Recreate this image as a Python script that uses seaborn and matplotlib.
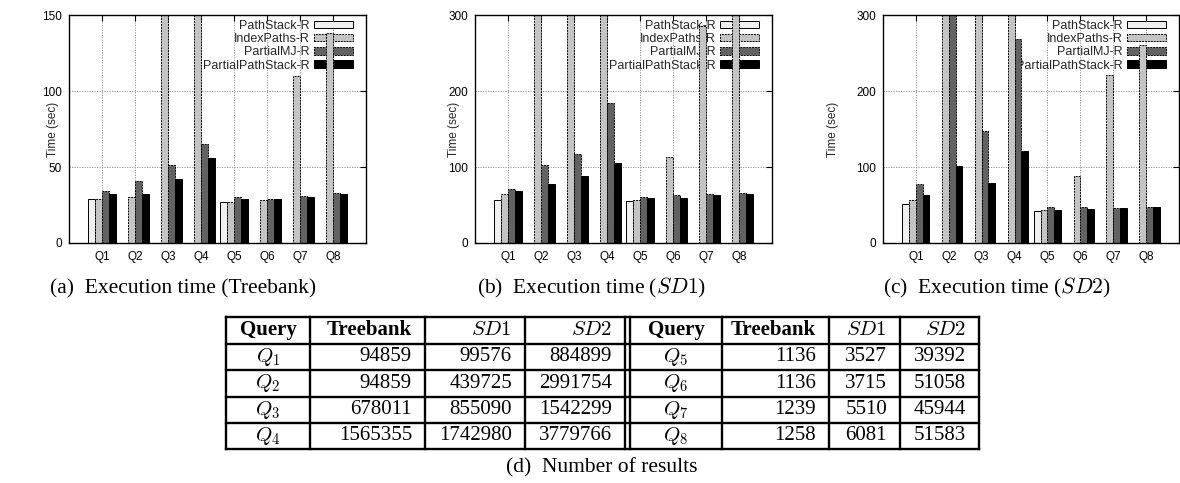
import pandas as pd
import seaborn as sns
import matplotlib.pyplot as plt

# === DANE ===
QUERIES = ["Q1", "Q2", "Q3", "Q4", "Q5", "Q6", "Q7", "Q8"]
ALGOS = ["PathStack-R", "IndexPaths-R", "PartialMJ-R", "PartialPathStack-R"]
NA = float("nan")

# Treebank (sec); wartosci ponad skale sa ucinane przez os
tb_pathstack = [29, NA, NA, NA, 27, NA, NA, NA]
tb_indexpaths = [29, 30, 200, 200, 27, 28, 110, 138]
tb_partialmj = [34, 41, 51, 65, 30, 29, 31, 33]
tb_partialps = [32, 32, 42, 56, 29, 29, 30, 32]

# SD1 (sec)
sd1_pathstack = [57, NA, NA, NA, 55, NA, NA, NA]
sd1_indexpaths = [64, 400, 400, 400, 56, 113, 285, 400]
sd1_partialmj = [71, 103, 117, 184, 61, 63, 64, 66]
sd1_partialps = [69, 77, 88, 105, 59, 59, 63, 65]

# SD2 (sec)
sd2_pathstack = [51, NA, NA, NA, 42, NA, NA, NA]
sd2_indexpaths = [57, 400, 400, 400, 44, 88, 221, 260]
sd2_partialmj = [77, 400, 148, 269, 47, 47, 46, 47]
sd2_partialps = [63, 101, 79, 121, 44, 45, 46, 47]

# Tabela: liczba wynikow
tbl_queries = ["$Q_1$", "$Q_2$", "$Q_3$", "$Q_4$", "$Q_5$", "$Q_6$", "$Q_7$", "$Q_8$"]
tbl_treebank = [94859, 94859, 678011, 1565355, 1136, 1136, 1239, 1258]
tbl_sd1 = [99576, 439725, 855090, 1742980, 3527, 3715, 5510, 6081]
tbl_sd2 = [884899, 2991754, 1542299, 3779766, 39392, 51058, 45944, 51583]
tbl_header = ["Query", "Treebank", "$SD1$", "$SD2$"]

# === STYL ===
COLORS = ["#f0f0f0", "#c4c4c4", "#626262", "#000000"]
LINESTYLES = ["-", (0, (2, 1)), (0, (2, 1)), "-"]
SANS = ["Liberation Sans", "DejaVu Sans"]
SERIF = ["Liberation Serif", "DejaVu Serif"]

sns.set_theme(style="white")
plt.rcParams["font.family"] = SANS
plt.rcParams["mathtext.fontset"] = "cm"

W, H = 1180, 483
fig = plt.figure(figsize=(W / 100, H / 100), dpi=100)


def make_df(series):
    rows = []
    for algo, vals in zip(ALGOS, series):
        for q, v in zip(QUERIES, vals):
            rows.append({"Query": q, "Algo": algo, "Time": v})
    return pd.DataFrame(rows)


def px_axes(x0, x1, y0, y1):
    return fig.add_axes([x0 / W, 1 - y1 / H, (x1 - x0) / W, (y1 - y0) / H])


# === WYKRESY ===
panels = [
    ((69, 366, 15, 243), [tb_pathstack, tb_indexpaths, tb_partialmj, tb_partialps], 150, 50, -0.035),
    ((475, 772, 15, 243), [sd1_pathstack, sd1_indexpaths, sd1_partialmj, sd1_partialps], 300, 100, -0.05),
    ((883, 1179, 15, 243), [sd2_pathstack, sd2_indexpaths, sd2_partialmj, sd2_partialps], 300, 100, -0.15),
]

for box, series, ymax, ystep, ylab_x in panels:
    ax = px_axes(*box)
    df = make_df(series)
    sns.barplot(data=df, x="Query", y="Time", hue="Algo", hue_order=ALGOS,
                palette=COLORS, saturation=1, width=0.82, errorbar=None,
                edgecolor="black", linewidth=0.7, legend=False, ax=ax)
    for cont, ls in zip(ax.containers, LINESTYLES):
        for bar in cont:
            bar.set_linestyle(ls)

    ax.set_xlim(-1, 8)
    ax.set_ylim(0, ymax)
    ax.set_yticks(range(0, ymax + 1, ystep))
    ax.set_xlabel("")
    ax.set_ylabel("Time (sec)", fontsize=8.5)
    ax.yaxis.set_label_coords(ylab_x, 0.5)
    ax.tick_params(direction="in", top=True, right=True, length=4, width=0.8,
                   labelsize=8.5, colors="black")
    ax.tick_params(axis="x", pad=6)
    ax.tick_params(axis="y", pad=5)
    ax.grid(True, color="#8c8c8c", linestyle=(0, (1.5, 1.5)), linewidth=0.6)
    ax.set_axisbelow(True)
    for sp in ax.spines.values():
        sp.set_color("black")
        sp.set_linewidth(1.0)

    # markerfirst=False -> opisy wyrownane do prawej, probki po prawej
    leg = ax.legend(ax.containers, ALGOS, loc="upper right", frameon=False,
                    bbox_to_anchor=(0.964, 0.99), borderaxespad=0,
                    markerfirst=False, fontsize=9, handlelength=3.1,
                    handleheight=0.55, handletextpad=0.35, labelspacing=0.1,
                    borderpad=0.2)
    leg.set_zorder(0.8)

# === PODPISY I TABELA ===
ov = fig.add_axes([0, 0, 1, 1])
ov.set_xlim(0, W)
ov.set_ylim(H, 0)
ov.axis("off")
ov.patch.set_alpha(0)

cap_kw = dict(fontsize=15.5, family=SERIF, va="baseline", color="black")
ov.text(50, 293, "(a)  Execution time (Treebank)", ha="left", **cap_kw)
ov.text(477, 293, "(b)  Execution time ($SD1$)", ha="left", **cap_kw)
ov.text(883, 293, "(c)  Execution time ($SD2$)", ha="left", **cap_kw)
ov.text(602, 472, "(d)  Number of results", ha="center", **cap_kw)

row_edges = [317, 343.5, 370, 396.5, 423, 449]
left_cols = [226, 310, 425, 525, 625]
right_cols = [630, 722, 829, 900, 979]
lw = 1.7

for y in row_edges:
    ov.plot([226, 979], [y, y], color="black", lw=lw, solid_capstyle="projecting")
for x in left_cols + right_cols:
    ov.plot([x, x], [row_edges[0], row_edges[-1]], color="black", lw=lw,
            solid_capstyle="projecting")

tbl_kw = dict(fontsize=15, family=SERIF, va="center", color="black")
pad = 13
for cols, start in [(left_cols, 0), (right_cols, 4)]:
    yc = (row_edges[0] + row_edges[1]) / 2
    for j, head in enumerate(tbl_header):
        weight = "bold" if j < 2 else "normal"
        if j == 0:
            ov.text((cols[0] + cols[1]) / 2, yc, head, ha="center", weight=weight, **tbl_kw)
        else:
            ov.text(cols[j + 1] - pad, yc, head, ha="right", weight=weight, **tbl_kw)
    for i in range(4):
        k = start + i
        yc = (row_edges[i + 1] + row_edges[i + 2]) / 2
        ov.text((cols[0] + cols[1]) / 2, yc, tbl_queries[k], ha="center", **tbl_kw)
        for j, vals in enumerate([tbl_treebank, tbl_sd1, tbl_sd2]):
            ov.text(cols[j + 2] - pad, yc, str(vals[k]), ha="right", **tbl_kw)

fig.savefig("out.png", dpi=100)
